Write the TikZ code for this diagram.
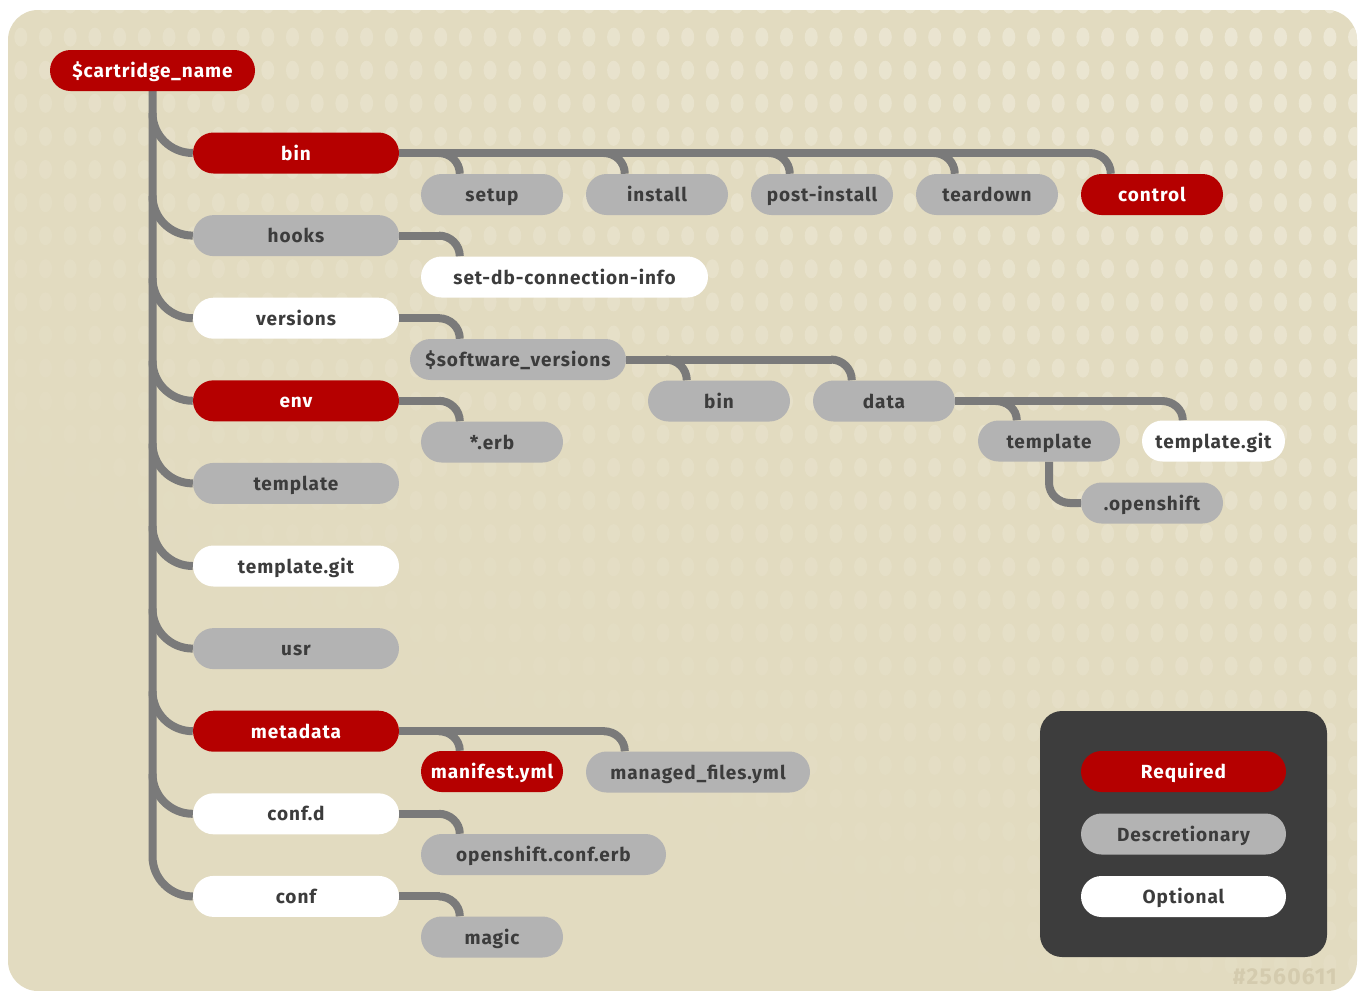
\documentclass[tikz,border=0pt]{standalone}
\usepackage{fontspec}
\setmainfont{Fira Sans}
\newfontfamily\pillfont[LetterSpace=5]{Fira Sans}
\usetikzlibrary{calc}
\definecolor{bgbeige}{RGB}{226,219,192}
\definecolor{dotc}{RGB}{236,231,212}
\definecolor{redn}{RGB}{181,0,0}
\definecolor{grayn}{RGB}{179,179,179}
\definecolor{connc}{RGB}{122,122,122}
\definecolor{txt}{RGB}{60,60,60}
\definecolor{legbg}{RGB}{61,61,61}
\definecolor{wmark}{RGB}{212,203,174}
\pgfdeclarelayer{back}
\pgfdeclarelayer{links}
\pgfsetlayers{back,links,main}
\tikzset{
  pill/.style={rectangle, rounded corners=20.5pt, minimum height=41pt, inner sep=0pt,
    text height=16pt, text depth=2pt,
    font=\pillfont\fontsize{19}{22}\selectfont\bfseries, text=txt},
  req/.style={pill, fill=redn, text=white},
  dis/.style={pill, fill=grayn},
  opt/.style={pill, fill=white},
  conn/.style={draw=connc, line width=8pt},
}
\newcommand{\mydrop}[3]{%
  \path ($(#2.north west)+(#3,0)$) coordinate (tmpa);
  \draw[conn] ($(tmpa |- #1.east)+(-21,0)$) to[out=0,in=90] (tmpa);}
\newcommand{\mybus}[3]{%
  \path ($(#2.north west)+(#3,0)$) coordinate (tmpb);
  \draw[conn] (#1.east) -- ($(tmpb |- #1.east)+(-20,0)$);}
\begin{document}
\begin{tikzpicture}[x=1pt,y=1pt]
\useasboundingbox (0,0) rectangle (1358,-991);
\begin{pgfonlayer}{back}
\fill[white] (0,0) rectangle (1358,-991);
\fill[bgbeige, rounded corners=30pt] (8,-10) rectangle (1357,-991);
\begin{scope}
\clip[rounded corners=30pt] (8,-10) rectangle (1357,-991);
\foreach \i in {0,...,54}{
  \foreach \j in {0,...,29}{
    \pgfmathsetmacro{\dx}{20.8+24.7*\i}
    \pgfmathsetmacro{\dy}{4+33.1*\j}
    \pgfmathsetmacro{\op}{max(0,min(1,0.45+0.6*\dx/1358-0.85*\dy/991))}
    \fill[dotc, opacity=\op] (\dx,-\dy) ellipse [x radius=6.5, y radius=9.5];
  }
}
\end{scope}
\end{pgfonlayer}

% root
\node[req, minimum width=205pt] (root) at (152.5,-70.5) {\$cartridge\_name};
% level 1
\node[req, minimum width=206pt] (bin) at (296,-153) {bin};
\node[dis, minimum width=206pt] (hooks) at (296,-235.6) {hooks};
\node[opt, minimum width=206pt] (versions) at (296,-318.2) {versions};
\node[req, minimum width=206pt] (env) at (296,-400.8) {env};
\node[dis, minimum width=206pt] (tmplA) at (296,-483.4) {template};
\node[opt, minimum width=206pt] (tgitA) at (296,-566) {template.git};
\node[dis, minimum width=206pt] (usr) at (296,-648.6) {usr};
\node[req, minimum width=206pt] (metadata) at (296,-731.2) {metadata};
\node[opt, minimum width=206pt] (confd) at (296,-813.8) {conf.d};
\node[opt, minimum width=206pt] (conf) at (296,-896.4) {conf};
% bin children
\node[dis, minimum width=142pt] (setup) at (492,-194.5) {setup};
\node[dis, minimum width=142pt] (install) at (657,-194.5) {install};
\node[dis, minimum width=142pt] (postinstall) at (822,-194.5) {post-install};
\node[dis, minimum width=142pt] (teardown) at (987,-194.5) {teardown};
\node[req, minimum width=142pt] (control) at (1152,-194.5) {control};
% hooks child
\node[opt, minimum width=287pt] (setdb) at (564.5,-277) {set-db-connection-info};
% versions
\node[dis, minimum width=216pt] (sv) at (518,-359.5) {\$software\_versions};
\node[dis, minimum width=142pt] (svbin) at (719,-401) {bin};
\node[dis, minimum width=142pt] (data) at (884,-401) {data};
\node[dis, minimum width=142pt] (tmplB) at (1049,-441) {template};
\node[opt, minimum width=143pt] (tgitB) at (1213.5,-441) {template.git};
\node[dis, minimum width=142pt] (opsh) at (1152,-503) {.openshift};
% env
\node[dis, minimum width=142pt] (erb) at (492,-442) {*.erb};
% metadata
\node[req, minimum width=142pt] (manifest) at (492,-771.5) {manifest.yml};
\node[dis, minimum width=224pt] (managed) at (698,-772) {managed\_files.yml};
% conf.d
\node[dis, minimum width=245pt] (osconf) at (543.5,-854.5) {openshift.conf.erb};
% conf
\node[dis, minimum width=142pt] (magic) at (492,-937) {magic};

% legend
\node[fill=legbg, rounded corners=22pt, minimum width=287pt, minimum height=246pt, inner sep=0pt] (legend) at (1183.5,-834) {};
\node[req, minimum width=205pt] (lreq) at (1183.5,-771.5) {Required};
\node[dis, minimum width=205pt] (ldis) at (1183.5,-834) {Descretionary};
\node[opt, minimum width=205pt] (lopt) at (1183.5,-896.5) {Optional};

% watermark
\node[text=wmark, font=\pillfont\fontsize{23}{26}\selectfont\bfseries, anchor=base east, inner sep=0pt] (wm) at (1337,-984) {\#2560611};

\begin{pgfonlayer}{links}
% trunk
\draw[conn] (root.south) -- ($(root.south |- conf.west)+(0,40)$) to[out=-90,in=180] (conf.west);
\foreach \n in {bin,hooks,versions,env,tmplA,tgitA,usr,metadata,confd}{
  \draw[conn] ($(root.south |- \n.west)+(0,40)$) to[out=-90,in=180] (\n.west);
}
% bin
\mybus{bin}{control}{30}
\mydrop{bin}{setup}{39}
\mydrop{bin}{install}{39}
\mydrop{bin}{postinstall}{39}
\mydrop{bin}{teardown}{39}
\mydrop{bin}{control}{30}
% hooks
\mybus{hooks}{setdb}{39}
\mydrop{hooks}{setdb}{39}
% versions
\mybus{versions}{sv}{50}
\mydrop{versions}{sv}{50}
\mybus{sv}{data}{39}
\mydrop{sv}{svbin}{39}
\mydrop{sv}{data}{39}
\mybus{data}{tgitB}{41}
\mydrop{data}{tmplB}{39}
\mydrop{data}{tgitB}{41}
\draw[conn] (tmplB.south) -- ($(tmplB.south)+(0,-21)$) to[out=-90,in=180] ($(tmplB.south |- opsh.west)+(21,0)$) -- (opsh.west);
% env
\mybus{env}{erb}{39}
\mydrop{env}{erb}{39}
% metadata
\mybus{metadata}{managed}{39}
\mydrop{metadata}{manifest}{39}
\mydrop{metadata}{managed}{39}
% conf.d
\mybus{confd}{osconf}{39}
\mydrop{confd}{osconf}{39}
% conf
\mybus{conf}{magic}{39}
\mydrop{conf}{magic}{39}
\end{pgfonlayer}
\end{tikzpicture}
\end{document}
